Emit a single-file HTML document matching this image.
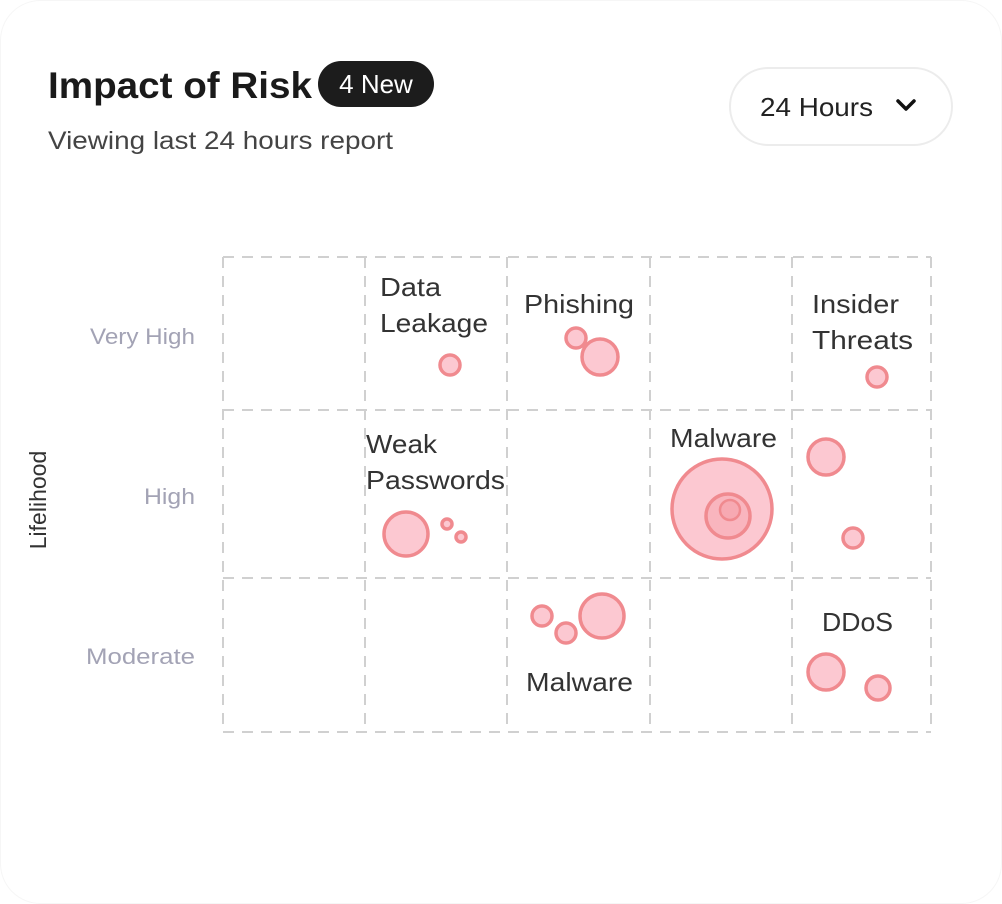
<!DOCTYPE html>
<html><head><meta charset="utf-8"><style>
html,body{margin:0;padding:0;background:#fff;}
svg{display:block;}
text{font-family:"Liberation Sans",sans-serif;}
</style></head><body>
<svg width="1002" height="904" viewBox="0 0 1002 904" xmlns="http://www.w3.org/2000/svg">
<rect x="0.5" y="0.5" width="1001" height="903" rx="40" fill="#fff" stroke="#f6f6f6"/>
<text x="48" y="98" font-size="37" font-weight="bold" fill="#1a1a1a" textLength="264" lengthAdjust="spacingAndGlyphs">Impact of Risk</text>
<rect x="318" y="61" width="116" height="46" rx="23" fill="#1c1c1c"/>
<text x="376" y="93" font-size="26" fill="#fff" text-anchor="middle">4 New</text>
<text x="48" y="149" font-size="25" fill="#444" textLength="345" lengthAdjust="spacingAndGlyphs">Viewing last 24 hours report</text>
<rect x="730" y="68" width="222" height="77" rx="38.5" fill="#fff" stroke="#ececec" stroke-width="2"/>
<text x="760" y="116" font-size="26" fill="#222" textLength="113" lengthAdjust="spacingAndGlyphs">24 Hours</text>
<path d="M898 101 L906 109 L914 101" fill="none" stroke="#111" stroke-width="3.5" stroke-linecap="round" stroke-linejoin="round"/>
<g stroke="#d0d0d0" stroke-width="2" stroke-dasharray="11 8" fill="none">
<line x1="223" y1="257" x2="931" y2="257"/>
<line x1="223" y1="410" x2="931" y2="410"/>
<line x1="223" y1="578" x2="931" y2="578"/>
<line x1="223" y1="732" x2="931" y2="732"/>
<line x1="223" y1="257" x2="223" y2="732"/>
<line x1="365" y1="257" x2="365" y2="732"/>
<line x1="507" y1="257" x2="507" y2="732"/>
<line x1="650" y1="257" x2="650" y2="732"/>
<line x1="792" y1="257" x2="792" y2="732"/>
<line x1="931" y1="257" x2="931" y2="732"/>
</g>
<g font-size="22" fill="#a3a3b5" text-anchor="end">
<text x="195" y="344" textLength="105" lengthAdjust="spacingAndGlyphs">Very High</text>
<text x="195" y="504" textLength="51" lengthAdjust="spacingAndGlyphs">High</text>
<text x="195" y="664" textLength="109" lengthAdjust="spacingAndGlyphs">Moderate</text>
</g>
<text transform="translate(46,500) rotate(-90)" font-size="23" fill="#333" text-anchor="middle">Lifelihood</text>
<g font-size="26" fill="#333" lengthAdjust="spacingAndGlyphs">
<text x="380" y="296" textLength="61" lengthAdjust="spacingAndGlyphs">Data</text>
<text x="380" y="332" textLength="108" lengthAdjust="spacingAndGlyphs">Leakage</text>
<text x="524" y="313" textLength="110" lengthAdjust="spacingAndGlyphs">Phishing</text>
<text x="812" y="313" textLength="87" lengthAdjust="spacingAndGlyphs">Insider</text>
<text x="812" y="349" textLength="101" lengthAdjust="spacingAndGlyphs">Threats</text>
<text x="366" y="453" textLength="71" lengthAdjust="spacingAndGlyphs">Weak</text>
<text x="366" y="489" textLength="139" lengthAdjust="spacingAndGlyphs">Passwords</text>
<text x="670" y="447" textLength="107" lengthAdjust="spacingAndGlyphs">Malware</text>
<text x="822" y="631" textLength="71" lengthAdjust="spacingAndGlyphs">DDoS</text>
<text x="526" y="691" textLength="107" lengthAdjust="spacingAndGlyphs">Malware</text>
</g>
<g fill="#fcc8d1" stroke="#f08a8f" stroke-width="3.5">
<circle cx="450" cy="365" r="10"/>
<circle cx="576" cy="338" r="10"/>
<circle cx="600" cy="357" r="18"/>
<circle cx="877" cy="377" r="10"/>
<circle cx="406" cy="534" r="22"/>
<circle cx="447" cy="524" r="5"/>
<circle cx="461" cy="537" r="5"/>
<circle cx="722" cy="509" r="50"/>
<circle cx="728" cy="516" r="22" fill="#f9b5be"/>
<circle cx="730" cy="510" r="10" stroke-width="2.5" fill="#f7a9b2"/>
<circle cx="826" cy="457" r="18"/>
<circle cx="853" cy="538" r="10"/>
<circle cx="542" cy="616" r="10"/>
<circle cx="566" cy="633" r="10"/>
<circle cx="602" cy="616" r="22"/>
<circle cx="826" cy="672" r="18"/>
<circle cx="878" cy="688" r="12"/>
</g>
</svg>
</body></html>
